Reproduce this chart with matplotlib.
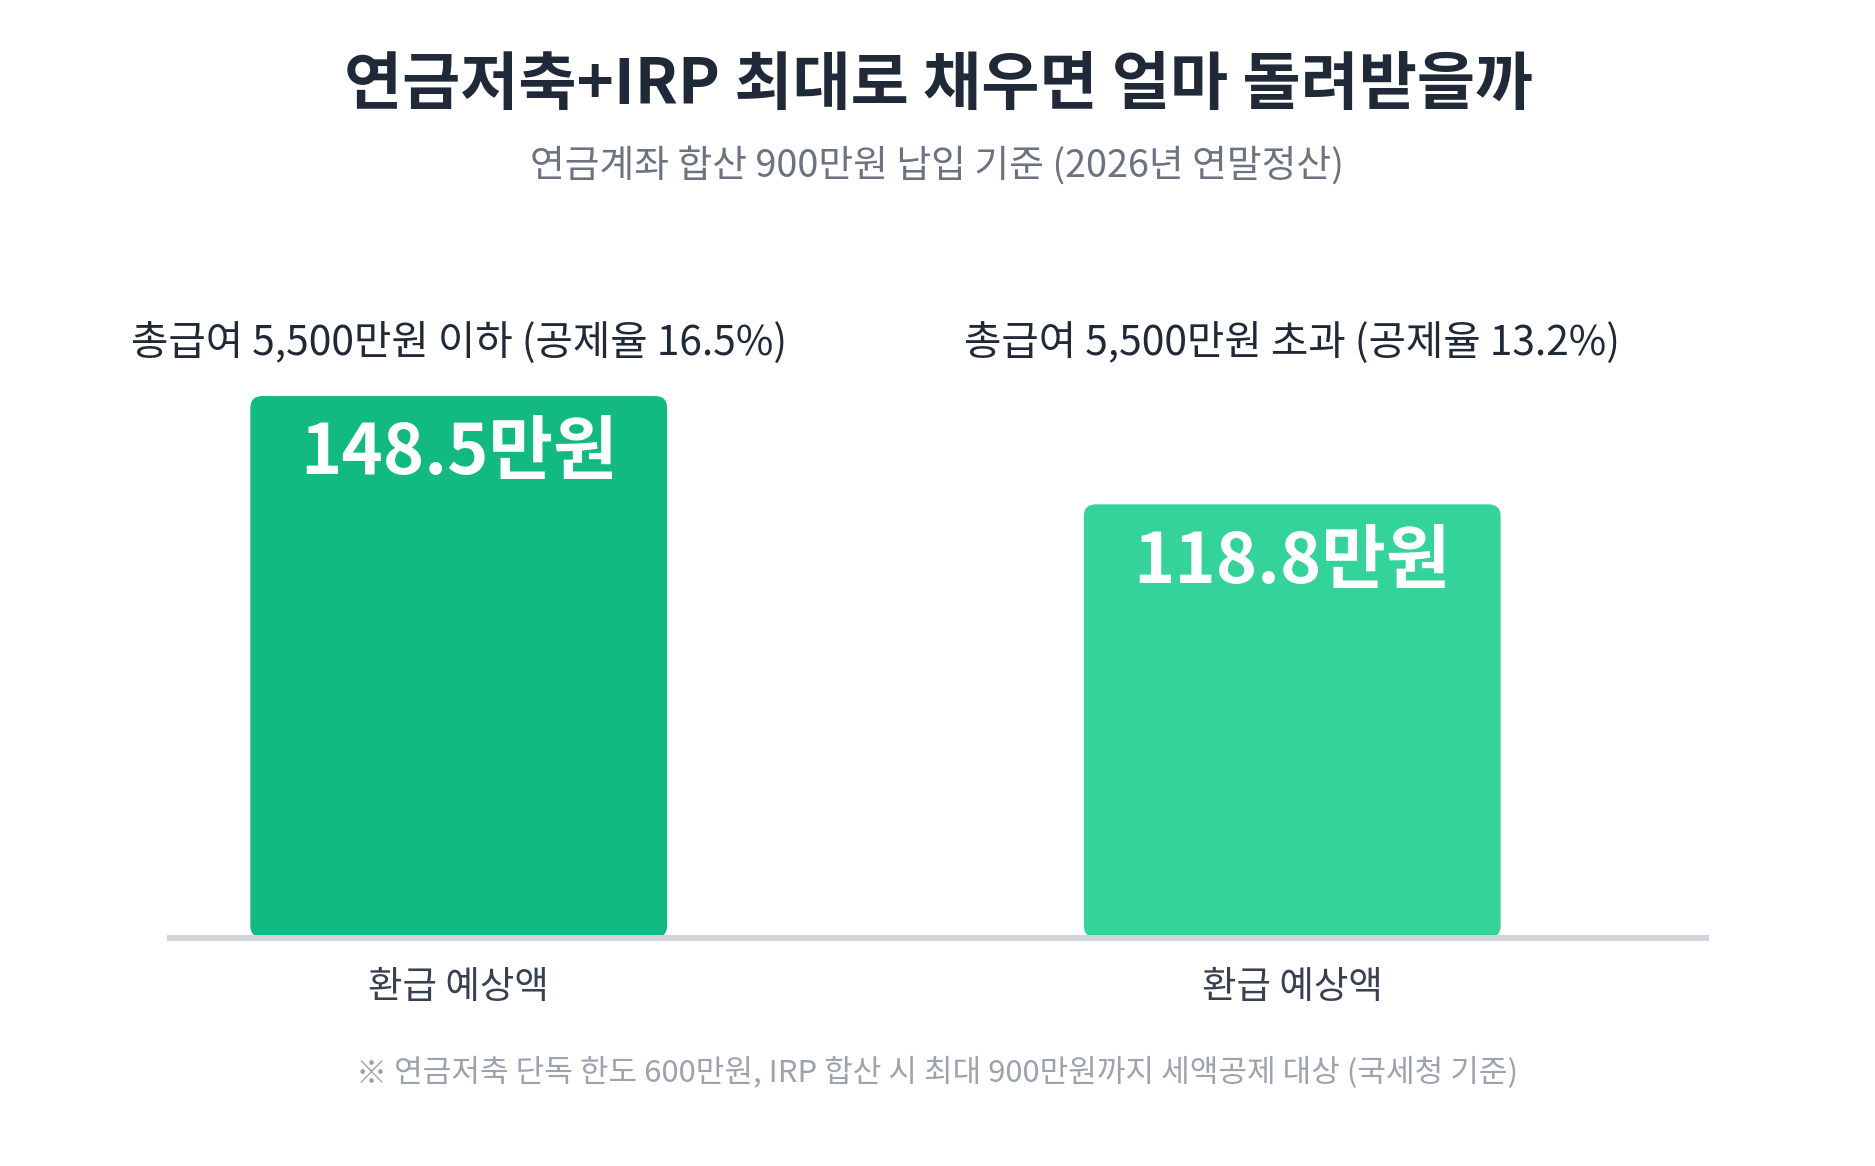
import matplotlib
matplotlib.use("Agg")
import matplotlib.pyplot as plt
from matplotlib.patches import FancyBboxPatch

plt.rcParams['font.family'] = ['Noto Sans CJK KR', 'DejaVu Sans']

# data
groups = ["총급여 5,500만원 이하 (공제율 16.5%)", "총급여 5,500만원 초과 (공제율 13.2%)"]
refunds = [148.5, 118.8]
value_labels = ["148.5만원", "118.8만원"]
category = "환급 예상액"
bar_colors = ["#12b981", "#34d399"]

title = "연금저축+IRP 최대로 채우면 얼마 돌려받을까"
subtitle = "연금계좌 합산 900만원 납입 기준 (2026년 연말정산)"
footnote = "※ 연금저축 단독 한도 600만원, IRP 합산 시 최대 900만원까지 세액공제 대상 (국세청 기준)"

W, H = 1875, 1166
fig = plt.figure(figsize=(W / 100, H / 100), dpi=100)
fig.patch.set_facecolor("white")

# axes placed in pixel terms: baseline at y~937px, spanning x 167..1709
ax = fig.add_axes([167 / W, (H - 937.5) / H, 1542 / W, 560 / H])
ax.set_xlim(-0.35, 1.5)
ax.set_ylim(0, 560 / 3.646)
ax.axis("off")

x = list(range(len(refunds)))
bars = ax.bar(x, refunds, width=0.5, color=bar_colors)

# swap plain bars for rounded ones
fig.canvas.draw()
p0 = ax.transData.transform((0, 0))
p1 = ax.transData.transform((1, 1))
aspect = (p1[0] - p0[0]) / (p1[1] - p0[1])  # y units per x unit at equal pixels
r = 12 / (p1[0] - p0[0])
for b, c in zip(bars, bar_colors):
    bx, by, bw, bh = b.get_x(), b.get_y(), b.get_width(), b.get_height()
    b.remove()
    ax.add_patch(FancyBboxPatch((bx, by), bw, bh,
                                boxstyle=f"round,pad=0,rounding_size={r}",
                                mutation_aspect=aspect, fc=c, ec="none", zorder=2))

ax.axhline(0, color="#d1d5db", lw=4.3, zorder=3, clip_on=False, solid_capstyle="butt")

for xi, v, lab, g in zip(x, refunds, value_labels, groups):
    ax.annotate(lab, (xi, v), xytext=(0, -41.8), textcoords="offset points",
                ha="center", va="center", fontsize=50.5, fontweight="bold", color="white", zorder=4)
    ax.text(xi, 1.06, g, transform=ax.get_xaxis_transform(), ha="center", va="center",
            fontsize=29.3, color="#1f2937", clip_on=False)
    ax.text(xi, -0.0884, category, transform=ax.get_xaxis_transform(), ha="center", va="center",
            fontsize=27, color="#374151", clip_on=False)

fig.text(939 / W, 1 - 86 / H, title, ha="center", va="center", fontsize=45.5, fontweight="bold", color="#1f2937")
fig.text(937 / W, 1 - 166 / H, subtitle, ha="center", va="center", fontsize=27.2, color="#6b7280")
fig.text(937 / W, 1 - 1073 / H, footnote, ha="center", va="center", fontsize=22.4, color="#9ca3af")

fig.savefig("out.png", dpi=100, facecolor="white")
